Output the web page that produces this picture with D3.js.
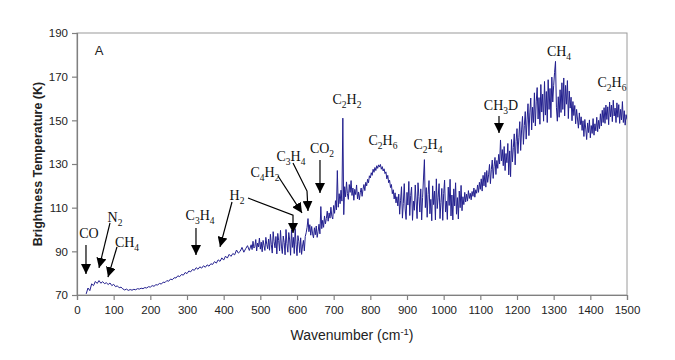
<!DOCTYPE html>
<html><head><meta charset="utf-8">
<script src="https://cdn.jsdelivr.net/npm/d3@7"></script>
<style>
body{margin:0;background:#fff;}
svg{display:block;}
</style></head>
<body>
<svg id="chart" width="675" height="360"></svg>
<script>
// ---- data ----
// low-noise part of the spectrum: 25 .. 470 cm-1, every 5 cm-1
const lowStart = 25, lowStep = 5;
const tempLow = [
  70.5, 73.2, 72.0, 75.1, 74.3, 76.2, 75.3, 76.6, 75.4, 76.1,
  75.2, 75.6, 74.8, 75.5, 74.3, 74.9, 73.8, 74.2, 73.3, 73.6,
  72.8, 72.3, 72.7, 72.1, 72.5, 72.2, 72.6, 72.4, 72.9, 72.7,
  73.1, 72.9, 73.4, 73.2, 73.8, 73.6, 74.3, 74.0, 74.7, 74.6,
  75.3, 75.0, 75.9, 75.7, 76.6, 76.3, 77.3, 77.0, 77.9, 77.8,
  78.8, 78.4, 79.4, 79.1, 80.3, 79.8, 81.0, 80.6, 81.7, 81.3,
  82.5, 81.8, 82.9, 82.3, 83.4, 82.7, 83.8, 83.2, 84.3, 84.0,
  85.3, 84.6, 86.1, 85.4, 87.0, 86.0, 87.8, 86.9, 88.6, 87.7,
  89.0, 88.4, 90.6, 89.2, 90.0, 91.8, 89.6, 91.2, 92.6, 90.4
];
// noisy part of the spectrum: 475 .. 1500 cm-1, every 2.5 cm-1
const highStart = 475, highStep = 2.5;
const tempHigh = [
  93.0, 90.8, 94.6, 91.5, 92.2, 95.4, 90.2, 93.8, 92.0, 96.1, 91.0, 94.2, 89.8, 95.0, 92.6, 90.4, 96.4, 93.2, 91.2, 95.6,
  90.5, 97.8, 93.0, 89.2, 99.0, 94.4, 91.6, 96.8, 88.8, 98.2, 95.0, 90.2, 99.6, 92.4, 89.0, 97.0, 94.0, 88.4, 100.0, 93.6,
  89.6, 98.6, 95.2, 88.2, 99.8, 91.8, 96.4, 89.0, 100.4, 93.0, 88.0, 97.2, 94.6, 89.4, 96.2, 88.6, 92.4, 95.0, 90.2, 96.8,
  98.5, 101.0, 105.0, 99.0, 102.2, 97.4, 101.4, 98.0, 96.2, 100.8, 97.6, 101.6, 96.4, 99.2, 102.4, 98.0, 110.5, 100.4, 104.2, 101.0,
  106.2, 102.6, 105.0, 108.4, 103.8, 107.6, 105.2, 110.2, 106.0, 104.8, 111.0, 107.4, 113.2, 109.0, 127.0, 110.2, 116.4, 111.8, 118.0, 113.0,
  151.0, 106.8, 119.6, 115.0, 121.8, 116.4, 113.8, 120.6, 117.0, 122.4, 115.6, 119.0, 113.4, 118.4, 116.0, 120.4, 114.0, 117.2, 113.6, 116.8,
  119.0, 115.2, 118.4, 120.6, 117.8, 121.6, 120.0, 123.0, 121.4, 124.6, 123.6, 126.0, 124.8, 127.6, 126.2, 128.4, 127.0, 129.2, 128.0, 129.6,
  128.6, 129.8, 127.6, 128.8, 126.8, 127.8, 125.6, 126.4, 123.2, 124.8, 121.4, 122.6, 119.2, 120.6, 116.4, 118.2, 114.0, 116.8, 112.2, 115.0,
  110.8, 116.2, 107.0, 113.4, 119.6, 105.2, 112.0, 121.0, 109.4, 104.6, 117.0, 111.2, 122.0, 106.4, 115.6, 119.4, 104.2, 113.0, 108.8, 120.4,
  112.6, 105.0, 121.4, 115.2, 108.0, 118.6, 104.4, 114.6, 123.6, 132.0, 110.0, 119.2, 105.6, 116.0, 122.4, 107.2, 113.8, 104.0, 120.0, 111.4,
  117.6, 104.4, 123.2, 109.6, 114.8, 121.0, 105.0, 112.4, 118.8, 104.2, 116.4, 122.6, 108.0, 113.0, 104.6, 119.4, 111.0, 123.0, 106.2, 115.8,
  104.4, 118.6, 110.8, 121.4, 107.0, 114.6, 104.8, 117.6, 110.0, 120.2, 108.6, 115.0, 111.4, 117.0, 112.6, 116.2, 113.0, 117.8, 114.2, 116.6,
  113.6, 117.4, 115.2, 119.0, 114.8, 118.2, 116.6, 120.4, 117.0, 121.6, 118.4, 123.2, 117.6, 124.8, 120.0, 126.2, 119.4, 127.0, 121.6, 125.0,
  129.8, 121.0, 127.4, 131.8, 123.4, 129.0, 133.0, 125.2, 131.6, 128.0, 134.4, 130.0, 141.0, 131.4, 136.6, 129.2, 138.0, 127.0, 134.8, 130.6,
  139.4, 125.0, 136.0, 124.2, 141.2, 131.0, 137.6, 143.8, 129.6, 140.4, 146.2, 134.8, 142.0, 149.4, 136.2, 145.6, 151.8, 139.0, 147.6, 154.0,
  141.4, 150.2, 157.6, 143.0, 153.4, 160.2, 145.6, 156.0, 149.0, 162.6, 147.4, 158.8, 165.0, 150.6, 160.4, 148.2, 166.4, 153.8, 162.0, 149.6,
  167.8, 152.4, 163.2, 149.0, 168.6, 155.0, 164.6, 151.2, 169.8, 158.4, 166.0, 172.0, 177.0, 156.0, 149.6, 160.8, 151.4, 164.0, 153.6, 167.2,
  155.0, 169.4, 152.0, 166.0, 157.4, 168.2, 150.8, 163.4, 155.6, 160.6, 149.8, 158.6, 152.2, 156.8, 148.4, 155.0, 150.6, 146.4, 153.4, 148.0,
  151.6, 145.4, 149.8, 142.6, 150.4, 146.0, 141.2, 148.8, 144.4, 150.2, 142.0, 147.6, 144.0, 150.8, 143.2, 148.4, 145.2, 151.4, 144.8, 150.0,
  146.2, 153.0, 147.4, 154.6, 149.0, 155.8, 148.6, 157.0, 150.4, 156.2, 148.0, 158.4, 151.6, 157.0, 149.4, 159.2, 152.0, 155.6, 149.0, 158.0,
  151.4, 157.2, 148.6, 155.0, 150.2, 158.6, 149.0, 154.4, 147.8, 152.6, 150.4
];
const xTicks = [0,100,200,300,400,500,600,700,800,900,1000,1100,1200,1300,1400,1500];
const yTicks = [70,90,110,130,150,170,190];

// labels: text ("_" marks a subscript digit), anchor in data units (wavenumber, K)
const speciesLabels = [
  {text:"CO",     v:32.7,   t:98.4},
  {text:"N_2",    v:103.6,  t:105.7},
  {text:"CH_4",   v:136.4,  t:94.3},
  {text:"C_3H_4", v:335.5,  t:106.6},
  {text:"H_2",    v:436.4,  t:115.8},
  {text:"C_4H_2", v:512.7,  t:126.5},
  {text:"C_3H_4", v:583.6,  t:133.7},
  {text:"CO_2",   v:668.2,  t:137.3},
  {text:"C_2H_2", v:736.4,  t:159.8},
  {text:"C_2H_6", v:834.5,  t:141.0},
  {text:"C_2H_4", v:957.3,  t:139.2},
  {text:"CH_3D",  v:1156.4, t:157.0},
  {text:"CH_4",   v:1314.5, t:181.8},
  {text:"C_2H_6", v:1459.1, t:167.6}
];
// arrows: polyline in data units, last point is the arrow tip
const arrowPaths = [
  [[24.5,92.9],[24.5,79.6]],
  [[90,103.0],[60,82.4]],
  [[109,92.0],[84.5,78.2]],
  [[324.5,100.7],[324.5,88.3]],
  [[422.7,112.6],[390,92.0]],
  [[466.4,114.4],[589.1,106.6],[589.1,98.4]],
  [[548.2,124.5],[613.6,107.6]],
  [[589.1,130.5],[627.3,117.6],[630,108.5]],
  [[662.7,131.8],[662.7,116.7]],
  [[1150.9,152.0],[1150.9,144.2]]
];

// ---- drawing ----
const svg = d3.select("#chart");
const m = {left:77, right:627, top:33, bottom:295};
const x = d3.scaleLinear().domain([0,1500]).range([m.left, m.right]);
const y = d3.scaleLinear().domain([70,190]).range([m.bottom, m.top]);

const series = tempLow.map((t,i)=>({v: lowStart + i*lowStep, t}))
  .concat(tempHigh.map((t,i)=>({v: highStart + i*highStep, t})));

// plot border (top/right)
svg.append("rect").attr("x",m.left).attr("y",m.top)
  .attr("width",m.right-m.left).attr("height",m.bottom-m.top)
  .attr("fill","none").attr("stroke","#9a9a9a").attr("stroke-width",1);

const axisColor = "#808080";
const xAxis = svg.append("g").attr("transform",`translate(0,${m.bottom})`)
  .call(d3.axisBottom(x).tickValues(xTicks).tickSize(5).tickPadding(6).tickFormat(d3.format("d")));
const yAxis = svg.append("g").attr("transform",`translate(${m.left},0)`)
  .call(d3.axisLeft(y).tickValues(yTicks).tickSize(5).tickPadding(4).tickFormat(d3.format("d")));
[xAxis,yAxis].forEach(g=>{
  g.select(".domain").attr("stroke",axisColor).attr("stroke-width",1.2);
  g.selectAll(".tick line").attr("stroke",axisColor).attr("stroke-width",1.2);
  g.selectAll(".tick text").attr("fill","#222").style("font-family","Arial, 'Liberation Sans', sans-serif").style("font-size","11.5px");
});

// clip
svg.append("clipPath").attr("id","clip").append("rect")
  .attr("x",m.left).attr("y",m.top).attr("width",m.right-m.left).attr("height",m.bottom-m.top);

const line = d3.line().x(d=>x(d.v)).y(d=>y(d.t));
svg.append("path").datum(series)
  .attr("clip-path","url(#clip)")
  .attr("fill","none").attr("stroke","#23208f").attr("stroke-width",1)
  .attr("stroke-linejoin","miter").attr("d",line);

// axis titles
const sans = "Arial, 'Liberation Sans', sans-serif";
svg.append("text").attr("transform",`translate(42,${(m.top+m.bottom)/2}) rotate(-90)`)
  .attr("text-anchor","middle").style("font-family",sans).style("font-size","12.5px")
  .style("font-weight","bold").attr("fill","#222").text("Brightness Temperature (K)");
const xt = svg.append("text").attr("x",(m.left+m.right)/2).attr("y",340)
  .attr("text-anchor","middle").style("font-family",sans).style("font-size","14px").attr("fill","#222");
xt.append("tspan").text("Wavenumber (cm");
xt.append("tspan").attr("dy",-5).style("font-size","9.5px").text("-1");
xt.append("tspan").attr("dy",5).text(")");

// panel letter
svg.append("text").attr("x",99).attr("y",55).attr("text-anchor","middle")
  .style("font-family",sans).style("font-size","13px").attr("fill","#222").text("A");

// arrow marker
svg.append("defs").append("marker").attr("id","arrowhead")
  .attr("markerUnits","userSpaceOnUse").attr("markerWidth",10).attr("markerHeight",10)
  .attr("viewBox","0 0 10 10").attr("refX",10).attr("refY",5).attr("orient","auto")
  .append("path").attr("d","M0,0 L10,5 L0,10 Z").attr("fill","#000");

const arrowLine = d3.line().x(d=>x(d[0])).y(d=>y(d[1]));
svg.selectAll("path.arrow").data(arrowPaths).join("path").attr("class","arrow")
  .attr("d",arrowLine).attr("fill","none").attr("stroke","#000").attr("stroke-width",1.2)
  .attr("marker-end","url(#arrowhead)");

// species labels with subscripts
const serif = "'Times New Roman', 'Liberation Serif', serif";
speciesLabels.forEach(l=>{
  const t = svg.append("text").attr("x",x(l.v)).attr("y",y(l.t)+5)
    .attr("text-anchor","middle").style("font-family",serif).style("font-size","14px").attr("fill","#111");
  const parts = l.text.split(/(_\d)/).filter(s=>s.length);
  let shifted = false;
  parts.forEach(p=>{
    if (p[0]==="_") {
      t.append("tspan").attr("dy",shifted?0:4).style("font-size","9.5px").text(p.slice(1));
      shifted = true;
    } else {
      t.append("tspan").attr("dy",shifted?-4:0).text(p);
      shifted = false;
    }
  });
});
</script>
</body></html>
